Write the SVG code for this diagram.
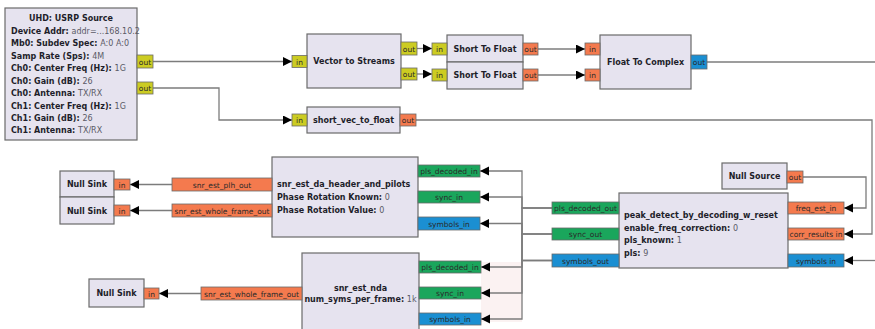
<svg xmlns="http://www.w3.org/2000/svg" width="875" height="329" viewBox="0 0 875 329">
<style>
.blk{fill:#e6e3ef;stroke:#6a6a6a;stroke-width:1.2}
.t{font-family:"DejaVu Sans",sans-serif;font-size:8px;font-weight:bold;fill:#1e1e2a}
.v{font-weight:normal;fill:#5a5a66}
.c{text-anchor:middle}
.p{stroke:#6a6a6a;stroke-width:0.8}
.py{fill:#cccc22}
.po{fill:#f47a4e}
.pb{fill:#1b8fd2}
.pg{fill:#1aa65c}
.pt{font-family:"DejaVu Sans",sans-serif;font-size:7.5px;fill:#2a2a2a;text-anchor:middle}
.ln{fill:none;stroke:#7c7c7c;stroke-width:1.3}
.ar{marker-end:url(#ah)}
</style>
<defs>
<marker id="ah" markerUnits="userSpaceOnUse" markerWidth="10" markerHeight="10" refX="9" refY="4.5" orient="auto">
<path d="M0,0 L9,4.5 L0,9 z" fill="#000"/>
</marker>
</defs>
<rect width="875" height="329" fill="#fff"/>
<rect x="481" y="262" width="41" height="60" fill="#fbf2f2"/>

<g id="connectors">
<path class="ln ar" d="M153,61.5 H292"/>
<path class="ln ar" d="M153,88 H219 V120 H292"/>
<path class="ln ar" d="M417,48.5 H432"/>
<path class="ln ar" d="M417,74 H432"/>
<path class="ln ar" d="M538,49 H585"/>
<path class="ln ar" d="M538,75 H585"/>
<path class="ln" d="M707,62 H875"/>
<path class="ln ar" d="M416,120 H872 V234 H844"/>
<path class="ln ar" d="M803,177 H866 V208 H844"/>
<path class="ln ar" d="M875,260.5 H844"/>
<path class="ln ar" d="M552,208 H522 V171 H480"/>
<path class="ln ar" d="M552,234 H522 V197 H480"/>
<path class="ln ar" d="M552,260.5 H522 V223.5 H480"/>
<path class="ln ar" d="M552,208 H522 V267 H481"/>
<path class="ln ar" d="M552,234 H522 V293 H481"/>
<path class="ln ar" d="M552,260.5 H522 V319 H481"/>
<path class="ln ar" d="M172,184.5 H130"/>
<path class="ln ar" d="M172,210.5 H130"/>
<path class="ln ar" d="M201,293.5 H159"/>
</g>

<g id="uhd_usrp_source">
<rect class="blk" x="5" y="8" width="132" height="132"/>
<text class="t c" x="71" y="21">UHD: USRP Source</text>
<text class="t" x="11" y="34">Device Addr: <tspan class="v">addr=...168.10.2</tspan></text>
<text class="t" x="11" y="46">Mb0: Subdev Spec: <tspan class="v">A:0 A:0</tspan></text>
<text class="t" x="11" y="58.5">Samp Rate (Sps): <tspan class="v">4M</tspan></text>
<text class="t" x="11" y="71">Ch0: Center Freq (Hz): <tspan class="v">1G</tspan></text>
<text class="t" x="11" y="83.5">Ch0: Gain (dB): <tspan class="v">26</tspan></text>
<text class="t" x="11" y="96">Ch0: Antenna: <tspan class="v">TX/RX</tspan></text>
<text class="t" x="11" y="108.5">Ch1: Center Freq (Hz): <tspan class="v">1G</tspan></text>
<text class="t" x="11" y="120.5">Ch1: Gain (dB): <tspan class="v">26</tspan></text>
<text class="t" x="11" y="133">Ch1: Antenna: <tspan class="v">TX/RX</tspan></text>
<rect class="p py" x="137" y="55" width="16" height="13"/><text class="pt" x="145" y="64.5">out</text>
<rect class="p py" x="137" y="82" width="16" height="12"/><text class="pt" x="145" y="91">out</text>
</g>

<g id="vector_to_streams">
<rect class="blk" x="307" y="34" width="94" height="54"/>
<text class="t c" x="354" y="64">Vector to Streams</text>
<rect class="p py" x="292" y="55.5" width="15" height="12"/><text class="pt" x="299.5" y="64.5">in</text>
<rect class="p py" x="401" y="42" width="16" height="13"/><text class="pt" x="409" y="51.5">out</text>
<rect class="p py" x="401" y="68" width="16" height="12"/><text class="pt" x="409" y="77">out</text>
</g>

<g id="short_to_float_0">
<rect class="blk" x="447" y="35" width="76" height="27"/>
<text class="t c" x="485" y="52">Short To Float</text>
<rect class="p py" x="432" y="43" width="15" height="12"/><text class="pt" x="439.5" y="52">in</text>
<rect class="p po" x="523" y="43" width="15" height="12"/><text class="pt" x="530.5" y="52">out</text>
</g>

<g id="short_to_float_1">
<rect class="blk" x="447" y="62" width="76" height="27"/>
<text class="t c" x="485" y="78">Short To Float</text>
<rect class="p py" x="432" y="69" width="15" height="12"/><text class="pt" x="439.5" y="78">in</text>
<rect class="p po" x="523" y="69" width="15" height="12"/><text class="pt" x="530.5" y="78">out</text>
</g>

<g id="float_to_complex">
<rect class="blk" x="600" y="35" width="91" height="54"/>
<text class="t c" x="645.5" y="65">Float To Complex</text>
<rect class="p po" x="585" y="43" width="15" height="12"/><text class="pt" x="592.5" y="52">in</text>
<rect class="p po" x="585" y="69" width="15" height="12"/><text class="pt" x="592.5" y="78">in</text>
<rect class="p pb" x="691" y="55" width="16" height="14"/><text class="pt" x="699" y="65">out</text>
</g>

<g id="short_vec_to_float">
<rect class="blk" x="307" y="107" width="93" height="26"/>
<text class="t c" x="353.5" y="123">short_vec_to_float</text>
<rect class="p py" x="292" y="114" width="15" height="12"/><text class="pt" x="299.5" y="123">in</text>
<rect class="p po" x="400" y="114" width="16" height="12"/><text class="pt" x="408" y="123">out</text>
</g>

<g id="null_source">
<rect class="blk" x="722" y="163" width="65" height="26"/>
<text class="t c" x="754.5" y="179">Null Source</text>
<rect class="p po" x="787" y="171" width="16" height="12"/><text class="pt" x="795" y="180">out</text>
</g>

<g id="peak_detect_by_decoding_w_reset">
<rect class="blk" x="619" y="193" width="169" height="75"/>
<text class="t" x="624" y="218">peak_detect_by_decoding_w_reset</text>
<text class="t" x="624" y="230.5">enable_freq_correction: <tspan class="v">0</tspan></text>
<text class="t" x="624" y="243">pls_known: <tspan class="v">1</tspan></text>
<text class="t" x="624" y="255.5">pls: <tspan class="v">9</tspan></text>
<rect class="p pg" x="552" y="202" width="67" height="12"/><text class="pt" x="585.5" y="211">pls_decoded_out</text>
<rect class="p pg" x="552" y="228" width="67" height="12"/><text class="pt" x="585.5" y="237">sync_out</text>
<rect class="p pb" x="552" y="254" width="67" height="13"/><text class="pt" x="585.5" y="263.5">symbols_out</text>
<rect class="p po" x="788" y="202" width="56" height="12"/><text class="pt" x="816" y="211">freq_est_in</text>
<rect class="p po" x="788" y="228" width="56" height="12"/><text class="pt" x="816" y="237">corr_results in</text>
<rect class="p pb" x="788" y="254" width="56" height="13"/><text class="pt" x="816" y="263.5">symbols in</text>
</g>

<g id="snr_est_da_header_and_pilots">
<rect class="blk" x="272" y="157" width="146" height="80"/>
<text class="t" x="277" y="187">snr_est_da_header_and_pilots</text>
<text class="t" x="277" y="200">Phase Rotation Known: <tspan class="v">0</tspan></text>
<text class="t" x="277" y="213">Phase Rotation Value: <tspan class="v">0</tspan></text>
<rect class="p po" x="172" y="178" width="100" height="13"/><text class="pt" x="222" y="187.5">snr_est_plh_out</text>
<rect class="p po" x="172" y="204" width="100" height="13"/><text class="pt" x="222" y="213.5">snr_est_whole_frame_out</text>
<rect class="p pg" x="418" y="165" width="62" height="12"/><text class="pt" x="449" y="174">pls_decoded_in</text>
<rect class="p pg" x="418" y="191" width="62" height="12"/><text class="pt" x="449" y="200">sync_in</text>
<rect class="p pb" x="418" y="217" width="62" height="13"/><text class="pt" x="449" y="226.5">symbols_in</text>
</g>

<g id="null_sink_0">
<rect class="blk" x="60" y="171" width="54" height="26"/>
<text class="t c" x="87" y="187">Null Sink</text>
<rect class="p po" x="114" y="179" width="16" height="11"/><text class="pt" x="122" y="187.5">in</text>
</g>

<g id="null_sink_1">
<rect class="blk" x="60" y="197" width="54" height="27"/>
<text class="t c" x="87" y="213.5">Null Sink</text>
<rect class="p po" x="114" y="205" width="16" height="11"/><text class="pt" x="122" y="213.5">in</text>
</g>

<g id="snr_est_nda">
<rect class="blk" x="302" y="253" width="117" height="82"/>
<text class="t c" x="360.5" y="290.5">snr_est_nda</text>
<text class="t c" x="360.5" y="302">num_syms_per_frame: <tspan class="v">1k</tspan></text>
<rect class="p po" x="201" y="287" width="101" height="13"/><text class="pt" x="251.5" y="296.5">snr_est_whole_frame_out</text>
<rect class="p pg" x="419" y="261" width="62" height="12"/><text class="pt" x="450" y="270">pls_decoded_in</text>
<rect class="p pg" x="419" y="287" width="62" height="12"/><text class="pt" x="450" y="296">sync_in</text>
<rect class="p pb" x="419" y="313" width="62" height="12"/><text class="pt" x="450" y="322">symbols_in</text>
</g>

<g id="null_sink_2">
<rect class="blk" x="89" y="279" width="55" height="28"/>
<text class="t c" x="116.5" y="296">Null Sink</text>
<rect class="p po" x="144" y="288" width="15" height="11"/><text class="pt" x="151.5" y="296.5">in</text>
</g>
</svg>
